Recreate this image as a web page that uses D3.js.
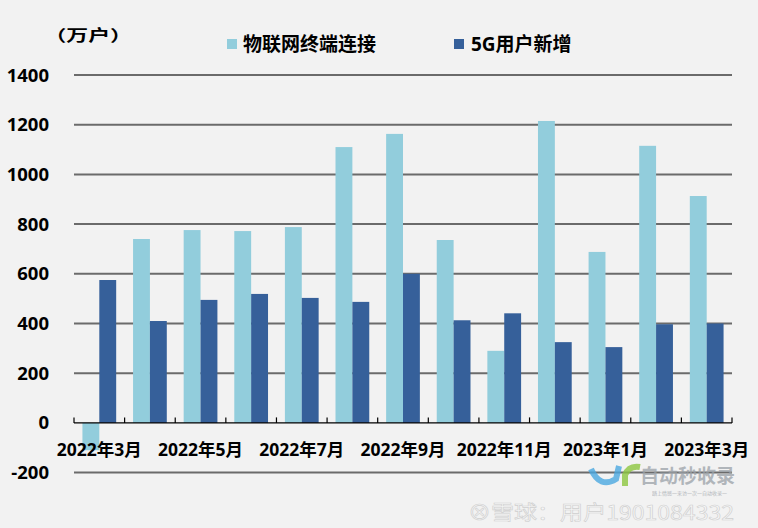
<!DOCTYPE html>
<html>
<head>
<meta charset="utf-8">
<script src="https://cdn.jsdelivr.net/npm/d3@7/dist/d3.min.js"></script>
<style>
  html, body { margin: 0; padding: 0; background: #f2f2f2; }
  svg { display: block; }
</style>
</head>
<body>
<svg id="chart" width="758" height="528"></svg>
<script>
// ---- data ----
const categories = ["2022年3月","2022年4月","2022年5月","2022年6月","2022年7月","2022年8月","2022年9月",
                    "2022年10月","2022年11月","2022年12月","2023年1月","2023年2月","2023年3月"];
const iotValues = [-110, 740, 776, 772, 788, 1110, 1163, 736, 290, 1215, 688, 1115, 913];
const fiveGValues = [575, 410, 495, 519, 503, 487, 600, 413, 441, 325, 305, 397, 400];
const seriesNames = ["物联网终端连接", "5G用户新增"];
const yTickValues = [-200, 0, 200, 400, 600, 800, 1000, 1200, 1400];
const xTickLabels = ["2022年3月","2022年5月","2022年7月","2022年9月","2022年11月","2023年1月","2023年3月"];
const unitLabel = "（万户）";

// ---- layout ----
const W = 758, H = 528;
const plotLeft = 74, plotRight = 732, plotTop = 75, plotBottom = 472.6;
const colors = ["#92cddc", "#36609a"];
const FONT = "'Open Sans','Noto Sans CJK SC',sans-serif";

const svg = d3.select("#chart");
svg.append("rect").attr("width", W).attr("height", H).attr("fill", "#f2f2f2");

const y = d3.scaleLinear().domain([-200, 1400]).range([plotBottom, plotTop]);
const x0 = d3.scaleBand().domain(categories).range([plotLeft, plotRight]).padding(0);
const x1 = d3.scaleBand().domain(seriesNames).range([0, x0.bandwidth()]).paddingInner(0).paddingOuter(0.5);

// gridlines
svg.append("g").selectAll("line")
  .data(yTickValues.filter(v => v !== 0))
  .join("line")
  .attr("x1", plotLeft).attr("x2", plotRight)
  .attr("y1", d => y(d)).attr("y2", d => y(d))
  .attr("stroke", "#6b6b6b").attr("stroke-width", 2);

// bars
const rows = categories.map((c, i) => ({ cat: c, vals: [iotValues[i], fiveGValues[i]] }));
const groups = svg.append("g").selectAll("g")
  .data(rows).join("g")
  .attr("transform", d => `translate(${x0(d.cat)},0)`);
groups.selectAll("rect")
  .data(d => d.vals.map((v, k) => ({ name: seriesNames[k], v, k })))
  .join("rect")
  .attr("x", d => x1(d.name))
  .attr("width", x1.bandwidth())
  .attr("y", d => Math.min(y(d.v), y(0)))
  .attr("height", d => Math.abs(y(d.v) - y(0)))
  .attr("fill", d => colors[d.k]);

// zero axis line + ticks (at band boundaries, pointing up)
const yZero = y(0);
svg.append("line").attr("x1", plotLeft).attr("x2", plotRight).attr("y1", yZero).attr("y2", yZero)
  .attr("stroke", "#000").attr("stroke-width", 1.3);
const tickXs = categories.map(c => x0(c)).concat([x0.range()[1]]);
svg.append("g").selectAll("line").data(tickXs).join("line")
  .attr("x1", d => d).attr("x2", d => d)
  .attr("y1", yZero).attr("y2", yZero - 5.5)
  .attr("stroke", "#000").attr("stroke-width", 1.2);

// y labels
svg.append("g").selectAll("text").data(yTickValues).join("text")
  .attr("x", 49).attr("y", d => y(d) + 6.5)
  .attr("text-anchor", "end")
  .attr("font-family", FONT).attr("font-weight", "bold").attr("font-size", 18.5)
  .attr("fill", "#000")
  .text(d => d);

// x labels
svg.append("g").selectAll("text").data(xTickLabels).join("text")
  .attr("x", d => x0(d) + x0.bandwidth() / 2)
  .attr("y", 455.5)
  .attr("text-anchor", "middle")
  .attr("font-family", FONT).attr("font-weight", "bold").attr("font-size", 17.5)
  .attr("fill", "#000")
  .text(d => d);

// unit label (wide, squat glyphs as in the reference)
svg.append("text").attr("transform", "translate(44.5,40.5) scale(1.15,0.82)")
  .attr("font-family", FONT).attr("font-weight", "bold").attr("font-size", 19)
  .attr("fill", "#000").text(unitLabel);

// legend
const legendPos = [227, 454];
const lg = svg.append("g").selectAll("g").data(seriesNames).join("g")
  .attr("transform", (d, i) => `translate(${legendPos[i]},39)`);
lg.append("rect").attr("width", 10).attr("height", 10).attr("fill", (d, i) => colors[i]);
lg.append("text").attr("x", (d, i) => i === 0 ? 16 : 17).attr("y", 12)
  .attr("font-family", FONT).attr("font-weight", "bold").attr("font-size", 19)
  .attr("fill", "#000").text(d => d);

// watermark (faint)
const wm = svg.append("g");
wm.append("path").attr("d", "M591,469 Q600,489 616,479 L619,466")
  .attr("fill", "none").attr("stroke", "#4aa8e0").attr("stroke-width", 6).attr("opacity", 0.8);
wm.append("path").attr("d", "M625,486 L625,475 Q629,465 640,467")
  .attr("fill", "none").attr("stroke", "#8cc63f").attr("stroke-width", 6).attr("opacity", 0.8);
wm.append("text").attr("x", 640).attr("y", 483)
  .attr("font-family", "'Noto Sans CJK SC',sans-serif").attr("font-weight", "bold").attr("font-size", 19)
  .attr("fill", "#9aa1a8").attr("opacity", 0.75).text("自动秒收录");
wm.append("text").attr("x", 652).attr("y", 495)
  .attr("font-family", "'Noto Sans CJK SC',sans-serif").attr("font-size", 5)
  .attr("fill", "#9aa1a8").attr("opacity", 0.75).text("踏上情感一来访一次一自动收录一");
wm.append("text").attr("x", 468).attr("y", 520)
  .attr("font-family", "'Noto Sans CJK SC',sans-serif").attr("font-size", 20)
  .attr("textLength", 266).attr("lengthAdjust", "spacingAndGlyphs")
  .attr("fill", "#f6f6f6").attr("stroke", "#cfcfcf").attr("stroke-width", 0.6)
  .text("⊗雪球：用户1901084332");
</script>
</body>
</html>
